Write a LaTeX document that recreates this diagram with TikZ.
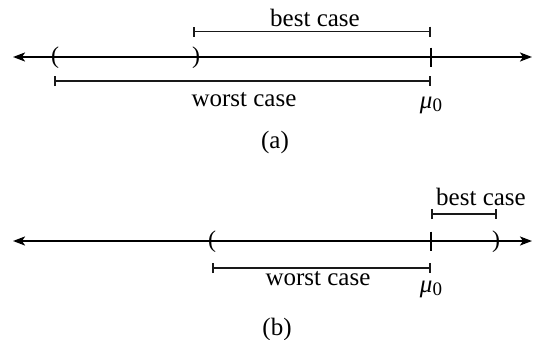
\documentclass[tikz,border=0pt]{standalone}
\usepackage{fontspec}
\setmainfont{Liberation Serif}
\usetikzlibrary{arrows.meta,calc}
\newcommand{\muzero}{\textit{μ}\raisebox{-0.3ex}{\fontsize{19}{22}\selectfont 0}}
\begin{document}
\begin{tikzpicture}[x=1pt,y=-1pt,
  axis/.style={line width=2pt,{Stealth[length=12pt,width=9pt,inset=3pt]}-{Stealth[length=12pt,width=9pt,inset=3pt]}},
  span/.style={line width=1.9pt,draw=black!90,{Bar[width=10pt]}-{Bar[width=10pt]}},
  tick/.style={line width=1.8pt},
  lbl/.style={font=\fontsize{25}{30}\selectfont,inner sep=0pt,anchor=base},
  paren/.style={font=\fontsize{24}{28}\selectfont,inner sep=0pt}]
\useasboundingbox (0,0) rectangle (533,340);

% ---- (a) ----
\coordinate (aL) at (13,57);
\coordinate (aR) at (532,57);
\coordinate (aMu) at (431,57);
\draw[axis] (aL) -- (aR);
\draw[tick] ($(aMu)+(0,-9.5)$) -- ($(aMu)+(0,9.5)$);
\node[paren] (aOpen) at (55,58) {(};
\node[paren] (aClose) at (196,58) {)};
\coordinate (aBest1) at (193,31.5);
\coordinate (aBest2) at (431,31.5);
\draw[span] (aBest1) -- (aBest2);
\node[lbl] (aBestLbl) at (315,26) {best case};
\coordinate (aWorst1) at (54,81);
\coordinate (aWorst2) at (431,81);
\draw[span] (aWorst1) -- (aWorst2);
\node[lbl] (aWorstLbl) at (244,106) {worst case};
\node[lbl] (aMuLbl) at (431,108) {\muzero};
\node[lbl] (aCap) at (275,148) {(a)};

% ---- (b) ----
\coordinate (bL) at (13,241);
\coordinate (bR) at (532,241);
\coordinate (bMu) at (431,241);
\draw[axis] (bL) -- (bR);
\draw[tick] ($(bMu)+(0,-9.5)$) -- ($(bMu)+(0,9.5)$);
\node[paren] (bOpen) at (212,242) {(};
\node[paren] (bClose) at (496,242) {)};
\coordinate (bBest1) at (431,214);
\coordinate (bBest2) at (497,214);
\draw[span] (bBest1) -- (bBest2);
\node[lbl] (bBestLbl) at (481,205) {best case};
\coordinate (bWorst1) at (212,268);
\coordinate (bWorst2) at (431,268);
\draw[span] (bWorst1) -- (bWorst2);
\node[lbl] (bWorstLbl) at (318,285) {worst case};
\node[lbl] (bMuLbl) at (431,292) {\muzero};
\node[lbl] (bCap) at (277,335) {(b)};
\end{tikzpicture}
\end{document}
